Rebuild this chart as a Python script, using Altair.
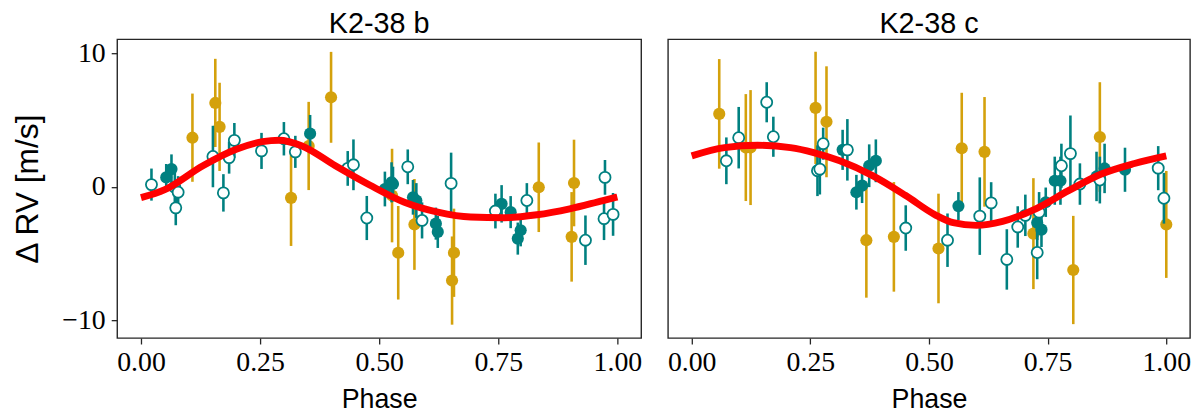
import altair as alt
import pandas as pd

# ---------------- data ----------------
# K2-38 b
b_gold_x = [0.108, 0.156, 0.165, 0.315, 0.352, 0.399, 0.527, 0.540, 0.574, 0.657, 0.653, 0.835, 0.909, 0.904]
b_gold_y = [3.69, 6.29, 4.50, -0.81, 3.07, 6.71, -0.64, -4.92, -2.80, -4.92, -7.00, -0.02, 0.30, -3.73]
b_gold_e = [3.3, 3.3, 3.3, 3.6, 3.3, 3.4, 3.5, 3.5, 3.4, 3.3, 3.3, 3.35, 3.24, 3.35]

b_tf_x = [0.053, 0.064, 0.355, 0.512, 0.526, 0.529, 0.571, 0.578, 0.619, 0.623, 0.757, 0.776, 0.797, 0.791]
b_tf_y = [0.72, 1.34, 3.99, -0.15, 0.35, 0.22, -0.77, -1.01, -2.74, -3.36, -1.26, -1.88, -3.24, -3.86]
b_tf_e = [1.0, 1.1, 1.4, 1.3, 1.5, 1.3, 1.3, 1.3, 1.2, 1.2, 1.4, 1.2, 1.2, 1.2]

b_to_x = [0.022, 0.071, 0.078, 0.073, 0.151, 0.173, 0.185, 0.196, 0.253, 0.300, 0.324, 0.434,
          0.446, 0.474, 0.560, 0.590, 0.651, 0.744, 0.810, 0.933, 0.974, 0.972, 0.991]
b_to_y = [0.18, -0.02, -0.39, -1.56, 2.28, -0.44, 2.20, 3.49, 2.70, 3.61, 2.63, 1.39,
          1.66, -2.32, 1.51, -2.50, 0.27, -1.80, -1.01, -3.98, 0.72, -2.37, -2.05]
b_to_e = [1.2, 1.2, 1.2, 1.3, 2.3, 1.4, 1.2, 1.3, 1.35, 1.25, 1.2, 1.3,
          1.9, 1.65, 1.3, 1.35, 2.3, 1.3, 1.3, 1.85, 1.3, 1.6, 1.6]

b_curve_x = [0.0, 0.05, 0.13, 0.20, 0.255, 0.29, 0.338, 0.408, 0.48, 0.553, 0.623, 0.692, 0.762, 0.831, 0.90, 0.97, 1.0]
b_curve_y = [-0.80, -0.20, 1.59, 2.82, 3.39, 3.50, 3.07, 1.59, 0.15, -1.14, -1.88, -2.25, -2.30, -2.08, -1.63, -1.01, -0.75]

# K2-38 c
c_gold_x = [0.058, 0.114, 0.124, 0.261, 0.284, 0.368, 0.426, 0.520, 0.569, 0.617, 0.720, 0.804, 0.860, 1.000]
c_gold_y = [5.47, 2.95, 2.95, 5.92, 4.88, -3.98, -3.73, -4.60, 2.90, 2.63, -3.49, -6.21, 3.74, -2.80]
c_gold_e = [4.1, 4.0, 4.3, 4.2, 4.15, 4.3, 4.1, 4.1, 4.15, 4.1, 4.15, 4.05, 4.1, 4.0]

c_tf_x = [0.318, 0.347, 0.359, 0.374, 0.388, 0.562, 0.728, 0.737, 0.746, 0.765, 0.777, 0.853, 0.870, 0.913]
c_tf_y = [2.78, -0.39, 0.10, 1.59, 1.96, -1.43, -2.67, -3.19, -1.14, 0.47, 0.47, 0.79, 1.39, 1.29]
c_tf_e = [1.5, 1.3, 1.3, 1.6, 1.6, 1.05, 1.3, 1.3, 1.1, 1.8, 1.8, 1.85, 1.85, 1.65]

c_to_x = [0.073, 0.099, 0.158, 0.172, 0.265, 0.270, 0.277, 0.328, 0.451, 0.539, 0.607, 0.631,
          0.664, 0.687, 0.703, 0.728, 0.732, 0.779, 0.798, 0.818, 0.860, 0.983, 0.995]
c_to_y = [1.96, 3.69, 6.34, 3.76, 1.22, 1.34, 3.24, 2.78, -3.07, -3.98, -2.18, -1.19,
          -5.42, -2.99, -2.12, -4.90, -1.88, 1.59, 2.50, 0.22, 0.52, 1.41, -0.84]
c_to_e = [1.75, 2.3, 1.5, 1.5, 1.9, 1.9, 1.2, 2.3, 1.7, 2.0, 2.9, 1.55,
          2.26, 1.55, 1.55, 2.0, 1.5, 1.65, 2.85, 1.55, 1.75, 1.65, 1.9]

c_curve_x = [0.0, 0.069, 0.139, 0.208, 0.257, 0.312, 0.381, 0.451, 0.513, 0.551, 0.60, 0.655, 0.725, 0.794, 0.863, 0.933, 1.0]
c_curve_y = [2.33, 2.95, 3.12, 2.95, 2.58, 1.96, 0.85, -0.64, -2.08, -2.67, -2.87, -2.57, -1.63, -0.27, 0.97, 1.76, 2.33]

GOLD = "#d4a10c"
TEAL = "#008080"
RED = "#ff0000"
X_DOMAIN = [-0.05, 1.05]
Y_DOMAIN = [-11.3, 11.05]


def pts(xs, ys, es):
    df = pd.DataFrame({"x": xs, "y": ys, "e": es})
    df["lo"] = df["y"] - df["e"]
    df["hi"] = df["y"] + df["e"]
    return df


def panel(title, gold, tf, to, cx, cy, first, width):
    xenc = alt.X("x:Q", scale=alt.Scale(domain=X_DOMAIN, nice=False, zero=False),
                 axis=alt.Axis(values=[0, 0.25, 0.5, 0.75, 1.0], format=".2f", title="Phase"))
    if first:
        yaxis = alt.Axis(values=[-10, 0, 10], format="d", title="\u0394 RV [m/s]")
    else:
        yaxis = None
    yscale = alt.Scale(domain=Y_DOMAIN, nice=False, zero=False)

    layers = []
    for df, color, filled in [(gold, GOLD, True), (tf, TEAL, True), (to, TEAL, False)]:
        base = alt.Chart(pd.DataFrame(df))
        err = base.mark_rule(color=color, strokeWidth=2.6).encode(
            x=xenc, y=alt.Y("lo:Q", scale=yscale, axis=yaxis), y2="hi:Q")
        if filled:
            dot = base.mark_point(filled=True, shape="circle", size=150, color=color, opacity=1).encode(
                x=xenc, y=alt.Y("y:Q", scale=yscale, axis=yaxis))
        else:
            dot = base.mark_point(filled=True, shape="circle", size=125, fill="white",
                                  stroke=color, strokeWidth=1.8, opacity=1).encode(
                x=xenc, y=alt.Y("y:Q", scale=yscale, axis=yaxis))
        layers += [err, dot]
    curve = alt.Chart(pd.DataFrame({"x": cx, "y": cy})).mark_line(
        color=RED, strokeWidth=7, interpolate="monotone").encode(
        x=xenc, y=alt.Y("y:Q", scale=yscale, axis=yaxis))
    layers.append(curve)
    return alt.layer(*layers).properties(
        width=width, height=301,
        title=alt.TitleParams(title, fontSize=29, font="Liberation Sans", fontWeight="normal",
                              color="black", offset=0))


left = panel("K2-38 b", pts(b_gold_x, b_gold_y, b_gold_e), pts(b_tf_x, b_tf_y, b_tf_e),
             pts(b_to_x, b_to_y, b_to_e), b_curve_x, b_curve_y, True, 528)
right = panel("K2-38 c", pts(c_gold_x, c_gold_y, c_gold_e), pts(c_tf_x, c_tf_y, c_tf_e),
              pts(c_to_x, c_to_y, c_to_e), c_curve_x, c_curve_y, False, 526)

chart = alt.hconcat(left, right, spacing=23).properties(
    background="white", padding={"left": 3, "top": 0, "right": 0, "bottom": 0}
).configure_view(
    stroke="#262626", strokeWidth=1.4
).configure_axis(
    domain=False, grid=False,
    tickColor="#262626", tickSize=6, tickWidth=1.3,
    labelFont="Liberation Serif", labelFontSize=28, labelColor="black",
    titleFont="Liberation Sans", titleFontWeight="normal", titleColor="black",
).configure_axisX(
    labelPadding=5, titleFontSize=27, titlePadding=10,
).configure_axisY(
    labelPadding=6, titleFontSize=32, titlePadding=17,
)

chart.save("out.html", embed_options={"renderer": "svg", "actions": False})
